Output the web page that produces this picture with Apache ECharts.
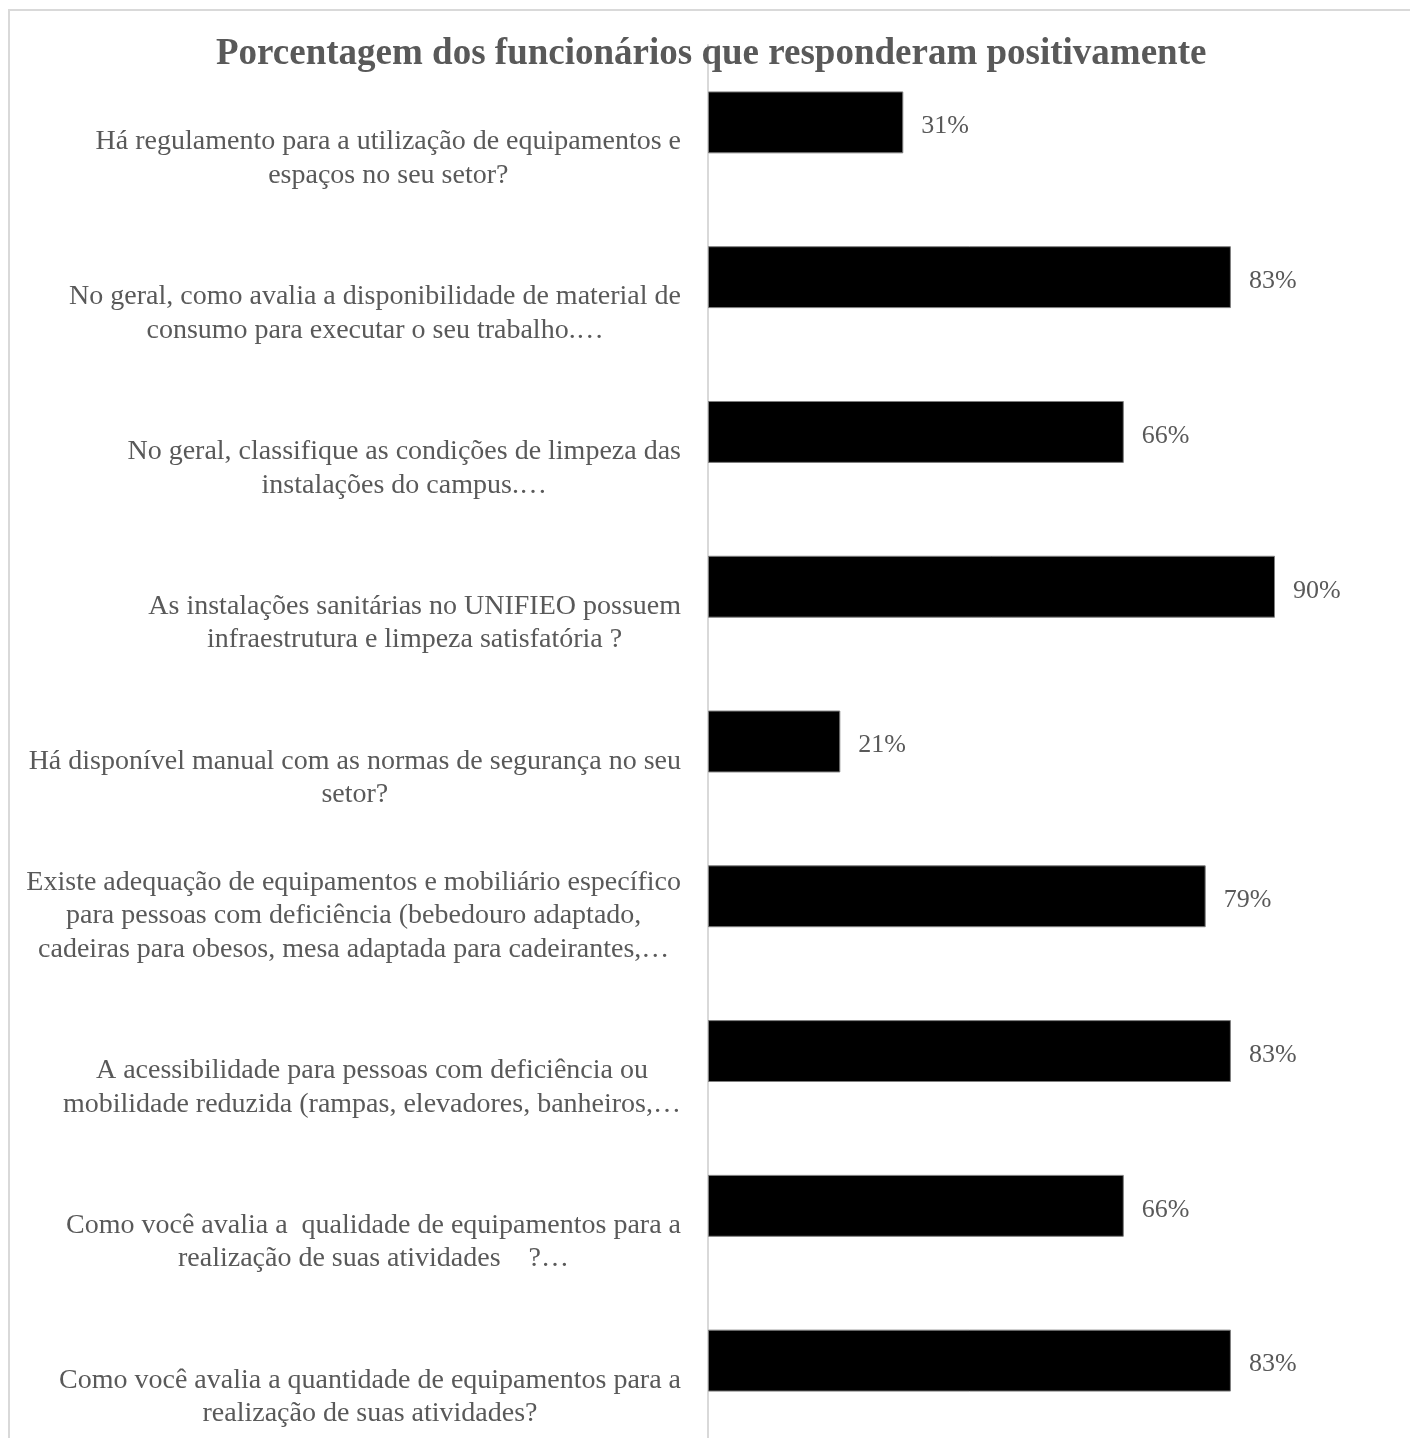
<!DOCTYPE html>
<html>
<head>
<meta charset="utf-8">
<script src="https://cdn.jsdelivr.net/npm/echarts@6/dist/echarts.min.js"></script>
<style>
html,body{margin:0;padding:0;background:#fff;}
#chart{width:1410px;height:1438px;}
</style>
</head>
<body>
<div id="chart"></div>
<script>
const titleText = 'Porcentagem dos funcionários que responderam positivamente';
const categories = [
  'Há regulamento para a utilização de equipamentos e\nespaços no seu setor?',
  'No geral, como avalia a disponibilidade de material de\nconsumo para executar o seu trabalho.…',
  'No geral, classifique as condições de limpeza das\ninstalações do campus.…',
  'As instalações sanitárias no UNIFIEO possuem\ninfraestrutura e limpeza satisfatória ?',
  'Há disponível manual com as normas de segurança no seu\nsetor?',
  'Existe adequação de equipamentos e mobiliário específico\npara pessoas com deficiência (bebedouro adaptado,\ncadeiras para obesos, mesa adaptada para cadeirantes,…',
  'A acessibilidade para pessoas com deficiência ou\nmobilidade reduzida (rampas, elevadores, banheiros,…',
  'Como você avalia a  qualidade de equipamentos para a\nrealização de suas atividades    ?…',
  'Como você avalia a quantidade de equipamentos para a\nrealização de suas atividades?'
];
const values = [31, 83, 66, 90, 21, 79, 83, 66, 83];

const chart = echarts.init(document.getElementById('chart'));
const FONT = '"Liberation Serif", "Times New Roman", serif';
const GREY = '#595959';

chart.setOption({
  backgroundColor: '#fff',
  animation: false,
  title: {
    text: titleText,
    left: 211,
    top: 31,
    textStyle: { fontFamily: FONT, fontWeight: 'bold', fontSize: 37, color: GREY }
  },
  graphic: [{
    type: 'rect',
    shape: { x: 9, y: 10, width: 1500, height: 1500 },
    style: { fill: null, stroke: '#d9d9d9', lineWidth: 2 },
    silent: true, z: -1
  }],
  grid: { left: 708, right: 72, top: 45, bottom: -2, containLabel: false },
  xAxis: {
    type: 'value', min: 0, max: 100, show: false
  },
  yAxis: {
    type: 'category',
    inverse: true,
    data: categories,
    axisLine: { show: true, lineStyle: { color: '#d9d9d9', width: 2 } },
    axisTick: { show: false },
    splitLine: { show: false },
    axisLabel: {
      margin: 27,
      fontFamily: FONT,
      fontSize: 28,
      color: GREY,
      lineHeight: 33.5,
      align: 'right',
      verticalAlign: 'middle',
      padding: [6, 0, 0, 0],
      formatter: function (v) {
        const lines = v.split('\n');
        const pad = [];
        for (let i = lines.length; i < 4; i++) pad.push('{c|\u00a0}');
        return pad.concat(lines.map(l => '{c|' + l + '}')).join('\n');
      },
      rich: {
        c: { align: 'center', fontFamily: FONT, fontSize: 28, color: GREY, lineHeight: 33.5 }
      }
    }
  },
  series: [{
    type: 'bar',
    data: values,
    barWidth: '40%',
    itemStyle: { color: '#000', borderColor: '#7f7f7f', borderWidth: 1 },
    label: {
      show: true,
      position: 'right',
      distance: 18,
      offset: [0, 4],
      formatter: '{c}%',
      fontFamily: FONT,
      fontSize: 26,
      color: GREY
    }
  }]
});
</script>
</body>
</html>
